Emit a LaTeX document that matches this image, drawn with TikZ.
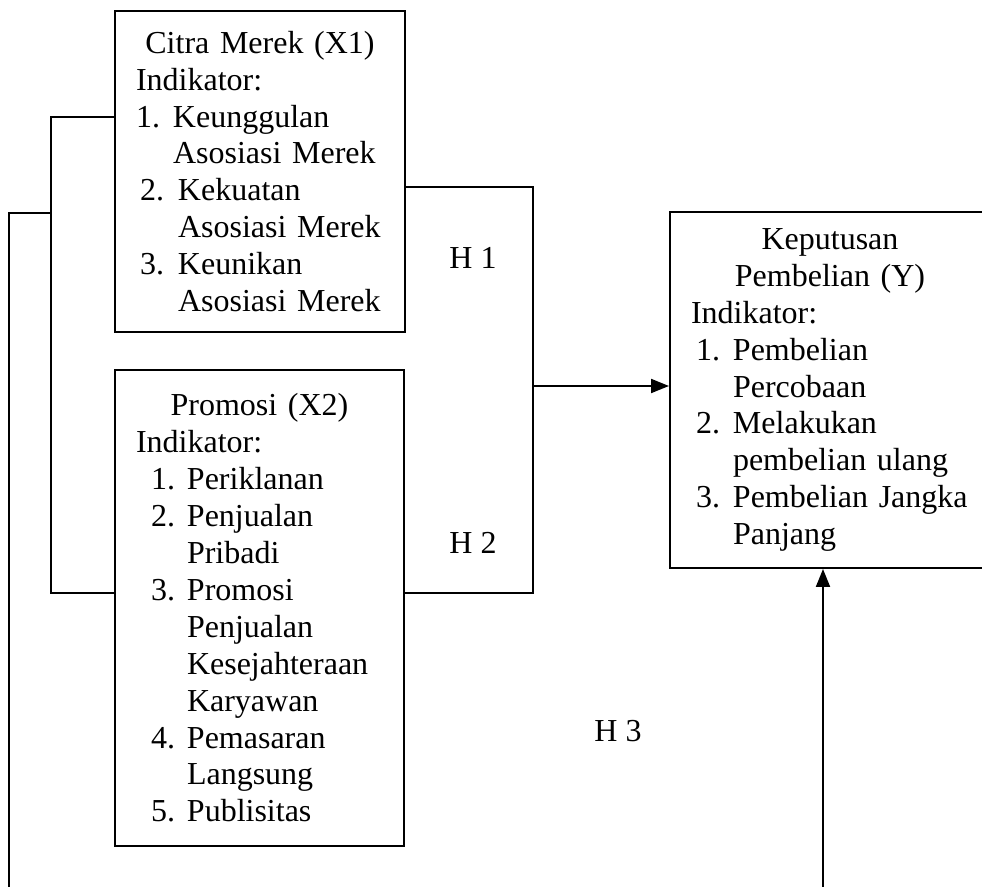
\documentclass[tikz,border=0pt]{standalone}
\usepackage{fontspec}
\setmainfont{Liberation Serif}
\usetikzlibrary{positioning,arrows.meta,calc}

\begin{document}
\begin{tikzpicture}[
    x=0.5pt, y=-0.5pt,
    font=\fontsize{16}{18.45}\selectfont,
    box/.style={
        draw=black,
        line width=1pt,
        align=left,
        inner xsep=10.5pt,
        inner ysep=0pt
    },
    link/.style={line width=1pt},
    arr/.style={line width=1pt, -{Triangle[length=9pt,width=7pt]}}
]

\useasboundingbox (0,0) rectangle (982,887);

% variable boxes
\node[box, minimum width=145pt, minimum height=160.5pt, text width=124pt] (x1) at (260,171.5)
{\makebox[\hsize][c]{Citra Merek (X1)}\\
Indikator:\\
\makebox[18.5pt][l]{1.}Keunggulan\\
\hspace*{18.5pt}Asosiasi Merek\\
\hspace*{2pt}\makebox[19pt][l]{2.}Kekuatan\\
\hspace*{21pt}Asosiasi Merek\\
\hspace*{2pt}\makebox[19pt][l]{3.}Keunikan\\
\hspace*{21pt}Asosiasi Merek};

\node[box, minimum width=144.5pt, minimum height=238pt, text width=123.5pt] (x2) at (259.5,608)
{\makebox[\hsize][c]{Promosi (X2)}\\
Indikator:\\
\hspace*{7.5pt}\makebox[18pt][l]{1.}Periklanan\\
\hspace*{7.5pt}\makebox[18pt][l]{2.}Penjualan\\
\hspace*{25.5pt}Pribadi\\
\hspace*{7.5pt}\makebox[18pt][l]{3.}Promosi\\
\hspace*{25.5pt}Penjualan\\
\hspace*{25.5pt}Kesejahteraan\\
\hspace*{25.5pt}Karyawan\\
\hspace*{7.5pt}\makebox[18pt][l]{4.}Pemasaran\\
\hspace*{25.5pt}Langsung\\
\hspace*{7.5pt}\makebox[18pt][l]{5.}Publisitas};

\node[box, minimum width=160pt, minimum height=178pt, text width=139pt] (y) at (830,390)
{\makebox[\hsize][c]{Keputusan}\\
\makebox[\hsize][c]{Pembelian (Y)}\\
Indikator:\\
\hspace*{2.5pt}\makebox[18.5pt][l]{1.}Pembelian\\
\hspace*{21pt}Percobaan\\
\hspace*{2.5pt}\makebox[18.5pt][l]{2.}Melakukan\\
\hspace*{21pt}pembelian ulang\\
\hspace*{2.5pt}\makebox[18.5pt][l]{3.}Pembelian Jangka\\
\hspace*{21pt}Panjang};

% hypothesis labels
\node (h1) at (473,258) {H 1};
\node (h2) at (473,543) {H 2};
\node (h3) at (618,731) {H 3};

% bends
\coordinate (jl1) at (51,117);
\coordinate (jl0) at (51,213);
\coordinate (jl2) at (51,593);
\coordinate (ol1) at (9,213);
\coordinate (ol2) at (9,887);
\coordinate (jr1) at (533,187);
\coordinate (jrm) at (533,386);
\coordinate (jr2) at (533,593);
\coordinate (up0) at (823,887);

\draw[link] (x1.west |- jl1) -- (jl1) -- (jl2) -- (x2.west |- jl2);
\draw[link] (jl0) -- (ol1) -- (ol2);
\draw[link] (x1.east |- jr1) -- (jr1) -- (jr2) -- (x2.east |- jr2);
\draw[arr] (jrm) -- (y.west |- jrm);
\draw[arr] (up0) -- (up0 |- y.south);

\end{tikzpicture}
\end{document}
